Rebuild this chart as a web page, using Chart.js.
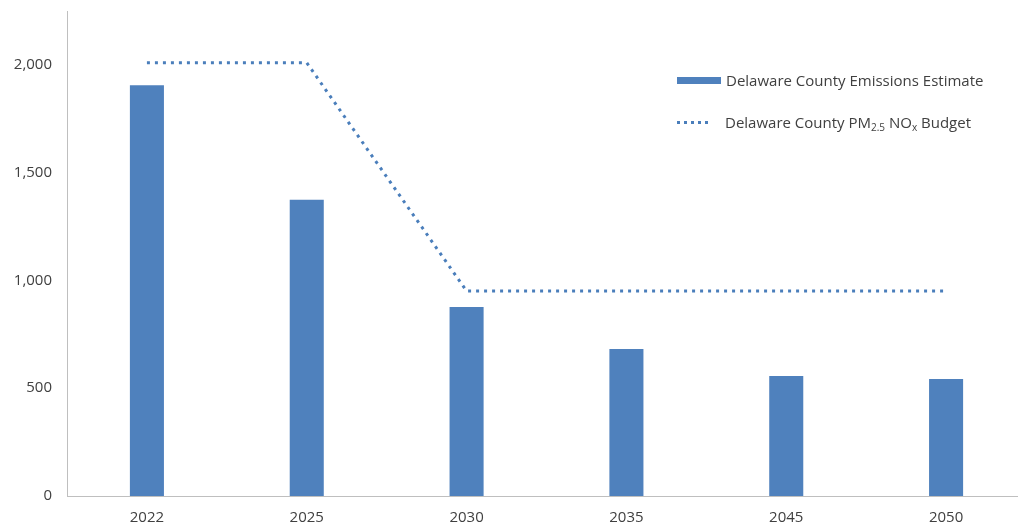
<!DOCTYPE html>
<html>
<head>
<meta charset="utf-8">
<script src="https://cdn.jsdelivr.net/npm/chart.js@4.4.0/dist/chart.umd.min.js"></script>
<style>
  html, body { margin: 0; padding: 0; background: #fff; overflow: hidden; }
  #wrap { position: relative; width: 1026px; height: 529px; overflow: hidden; }
  #chart { position: absolute; left: 0; top: -13px; }
  .leg { position: absolute; font-family: "Open Sans", sans-serif; font-size: 15px; color: #404040; white-space: nowrap; }
  .leg sub { font-size: 10px; vertical-align: -3px; line-height: 0; }
  .swatch { position: absolute; left: 677px; top: 77px; width: 44px; height: 7px; background: #4f81bd; }
  .dots { position: absolute; left: 677px; top: 121px; width: 34px; height: 3px;
          background: repeating-linear-gradient(90deg, #4a7ebb 0 3px, transparent 3px 7px); }
</style>
</head>
<body>
<div id="wrap">
  <canvas id="chart" width="1026" height="553"></canvas>
  <div class="swatch"></div>
  <div class="leg" style="left:726px; top:70px;">Delaware County Emissions Estimate</div>
  <div class="dots"></div>
  <div class="leg" style="left:725px; top:112px;">Delaware County PM<sub>2.5</sub> NO<sub>x</sub> Budget</div>
</div>
<script>
// values
const years = ["2022", "2025", "2030", "2035", "2045", "2050"]
const emissions = [1905, 1374, 877, 682, 557, 543]
const budget = [2010, 2010, 951, 951, 951, 951]
const yTicks = [0, 500, 1000, 1500, 2000]

const barColor = "#4f81bd"
const lineColor = "#4a7ebb"
const axisColor = "#bfbfbf"
const textColor = "#404040"

let node = document.getElementById("chart").getContext("2d")

let emissions_chart = new Chart(node, {
  type: "bar",
  data: {
    labels: years,
    datasets: [
      {
        type: "line",
        label: "Delaware County PM2.5 NOx Budget",
        data: budget,
        borderColor: lineColor,
        borderWidth: 3,
        borderDash: [3, 5],
        pointRadius: 0,
        fill: false,
        tension: 0
      },
      {
        label: "Delaware County Emissions Estimate",
        data: emissions,
        backgroundColor: barColor,
        barPercentage: 0.213,
        categoryPercentage: 1
      }
    ]
  },
  options: {
    responsive: false,
    animation: false,
    layout: { padding: { top: 0, right: 0, bottom: 0, left: 0 } },
    plugins: {
      legend: { display: false },
      tooltip: { enabled: false }
    },
    scales: {
      x: {
        grid: { display: false, drawTicks: false },
        border: { color: axisColor, width: 1 },
        ticks: {
          color: textColor,
          font: { family: "Open Sans", size: 15 },
          padding: 13
        }
      },
      y: {
        min: 0,
        max: 2250,
        grid: { display: false, drawTicks: false },
        border: { color: axisColor, width: 1 },
        afterBuildTicks: function (axis) {
          axis.ticks = yTicks.map(v => ({ value: v }))
        },
        afterFit: function (axis) {
          axis.width = 67
        },
        ticks: {
          color: textColor,
          font: { family: "Open Sans", size: 15 },
          padding: 15,
          callback: function (value) {
            return value.toLocaleString("en-US")
          }
        }
      }
    }
  }
})
</script>
</body>
</html>
